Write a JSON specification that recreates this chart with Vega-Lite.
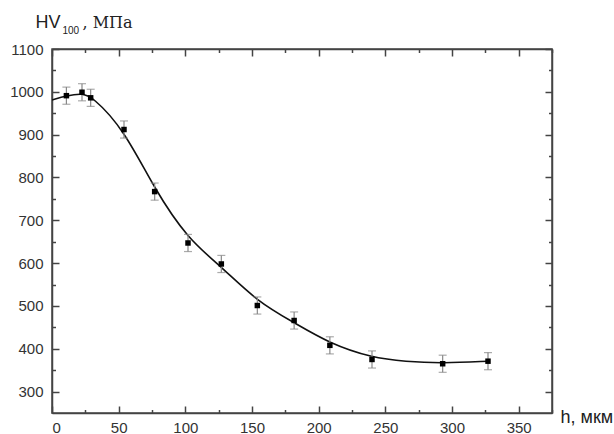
{
  "$schema": "https://vega.github.io/schema/vega-lite/v6.json",
  "autosize": {"type": "none"},
  "padding": {"left": 52, "top": 49, "right": 62, "bottom": 21},
  "width": 500,
  "height": 364,
  "background": "white",
  "config": {
    "view": {"stroke": "#444", "strokeWidth": 1.5},
    "axis": {
      "grid": false,
      "labelFont": "Liberation Sans",
      "labelFontSize": 15,
      "labelColor": "#333",
      "format": "d",
      "domainColor": "#444",
      "domainWidth": 1.5,
      "tickColor": "#444",
      "tickWidth": 1.5,
      "titleFont": "Liberation Sans",
      "titleFontWeight": "normal",
      "titleColor": "#222",
      "titleAngle": 0,
      "titleAlign": "left",
      "titleBaseline": "alphabetic"
    }
  },
  "datasets": {
    "pts": [
      {"h": 10.8, "hv": 991, "lo": 971, "hi": 1011},
      {"h": 22.5, "hv": 999, "lo": 979, "hi": 1019},
      {"h": 29, "hv": 986, "lo": 966, "hi": 1006},
      {"h": 54, "hv": 912, "lo": 892, "hi": 932},
      {"h": 77, "hv": 767, "lo": 747, "hi": 787},
      {"h": 102, "hv": 647, "lo": 627, "hi": 667},
      {"h": 127, "hv": 598, "lo": 578, "hi": 618},
      {"h": 154, "hv": 501, "lo": 481, "hi": 521},
      {"h": 181.6, "hv": 466, "lo": 446, "hi": 486},
      {"h": 208.4, "hv": 408, "lo": 388, "hi": 428},
      {"h": 240, "hv": 375, "lo": 355, "hi": 395},
      {"h": 293, "hv": 365, "lo": 345, "hi": 385},
      {"h": 327, "hv": 371, "lo": 351, "hi": 391}
    ],
    "curve": [
      {"h": 0, "hv": 981},
      {"h": 11, "hv": 991},
      {"h": 22, "hv": 996},
      {"h": 30, "hv": 990},
      {"h": 54, "hv": 912},
      {"h": 77, "hv": 772},
      {"h": 102, "hv": 656},
      {"h": 127, "hv": 592},
      {"h": 154, "hv": 510},
      {"h": 181.6, "hv": 461},
      {"h": 208.4, "hv": 412},
      {"h": 240, "hv": 379},
      {"h": 265, "hv": 370},
      {"h": 293, "hv": 366},
      {"h": 327, "hv": 371}
    ]
  },
  "resolve": {
    "scale": {"x": "shared", "y": "shared"},
    "axis": {"x": "independent", "y": "independent"}
  },
  "layer": [
    {
      "data": {"name": "curve"},
      "mark": {"type": "line", "color": "#111", "strokeWidth": 1.6, "interpolate": "basis", "clip": true},
      "encoding": {
        "x": {
          "field": "h", "type": "quantitative",
          "scale": {"domain": [0, 375], "nice": false, "zero": false},
          "axis": {
            "orient": "bottom",
            "values": [0, 50, 100, 150, 200, 250, 300, 350],
            "tickSize": -7,
            "labelPadding": 14,
            "title": "h, мкм",
            "titleFontSize": 18,
            "titleX": 508,
            "titleY": 9
          }
        },
        "y": {
          "field": "hv", "type": "quantitative",
          "scale": {"domain": [250, 1100], "nice": false, "zero": false},
          "axis": {
            "orient": "left",
            "values": [300, 400, 500, 600, 700, 800, 900, 1000, 1100],
            "tickSize": -7,
            "labelPadding": 16,
            "title": "HV",
            "titleFontSize": 18,
            "titleX": -17,
            "titleY": -22
          }
        }
      }
    },
    {
      "data": {"name": "pts"},
      "mark": {"type": "rule", "color": "#888", "strokeWidth": 1.2},
      "encoding": {
        "x": {
          "field": "h", "type": "quantitative",
          "axis": {
            "orient": "bottom",
            "values": [25, 75, 125, 175, 225, 275, 325, 375],
            "tickSize": -3.5,
            "labels": false,
            "domain": false,
            "title": null
          }
        },
        "y": {
          "field": "lo", "type": "quantitative",
          "axis": {
            "orient": "left",
            "values": [350, 450, 550, 650, 750, 850, 950, 1050],
            "tickSize": -3.5,
            "labels": false,
            "domain": false,
            "title": "100",
            "titleFontSize": 10,
            "titleX": 10,
            "titleY": -16
          }
        },
        "y2": {"field": "hi"}
      }
    },
    {
      "data": {"name": "pts"},
      "transform": [{"fold": ["lo", "hi"], "as": ["k", "v"]}],
      "mark": {"type": "tick", "orient": "horizontal", "color": "#888", "size": 8, "thickness": 1.2},
      "encoding": {
        "x": {
          "field": "h", "type": "quantitative",
          "axis": {
            "orient": "top",
            "values": [0, 50, 100, 150, 200, 250, 300, 350],
            "tickSize": -7,
            "labels": false,
            "title": null
          }
        },
        "y": {
          "field": "v", "type": "quantitative",
          "axis": {
            "orient": "right",
            "values": [300, 400, 500, 600, 700, 800, 900, 1000, 1100],
            "tickSize": -7,
            "labels": false,
            "title": ", МПа",
            "titleFont": "DejaVu Serif",
            "titleFontSize": 16,
            "titleX": -470,
            "titleY": -22
          }
        }
      }
    },
    {
      "data": {"name": "pts"},
      "mark": {"type": "point", "shape": "square", "filled": true, "color": "#000", "size": 30, "opacity": 1},
      "encoding": {
        "x": {
          "field": "h", "type": "quantitative",
          "axis": {
            "orient": "top",
            "values": [25, 75, 125, 175, 225, 275, 325, 375],
            "tickSize": -3.5,
            "labels": false,
            "domain": false,
            "title": null
          }
        },
        "y": {
          "field": "hv", "type": "quantitative",
          "axis": {
            "orient": "right",
            "values": [350, 450, 550, 650, 750, 850, 950, 1050],
            "tickSize": -3.5,
            "labels": false,
            "domain": false,
            "title": null
          }
        }
      }
    }
  ]
}
